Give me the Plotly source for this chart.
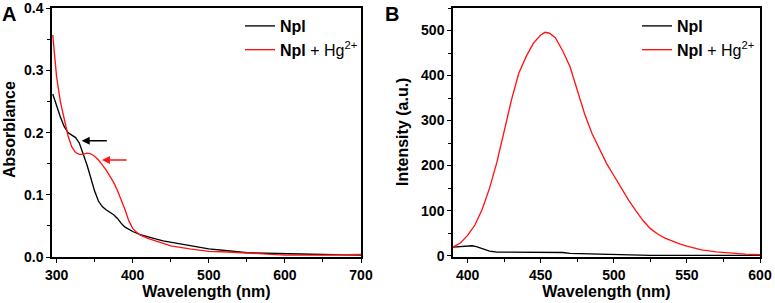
import plotly.graph_objects as go

# Panel A: UV-vis absorbance
wl_a_npl = [295, 300, 305, 310, 315, 320, 325, 330, 335, 340, 345, 350, 355, 360, 365, 370, 375,
            380, 385, 390, 395, 400, 410, 420, 430, 440, 450, 460, 475, 500, 525, 550, 575, 600, 650, 700]
abs_npl = [0.262, 0.242, 0.225, 0.210, 0.200, 0.196, 0.192, 0.183, 0.167, 0.148, 0.127, 0.106, 0.090,
           0.081, 0.076, 0.072, 0.068, 0.062, 0.054, 0.048, 0.044, 0.041, 0.036, 0.032, 0.029, 0.026,
           0.024, 0.021, 0.018, 0.013, 0.010, 0.007, 0.006, 0.005, 0.004, 0.003]
wl_a_hg = [295, 300, 305, 310, 315, 320, 325, 330, 335, 340, 345, 350, 355, 360, 365, 370, 375, 380,
           385, 390, 395, 400, 405, 410, 420, 430, 440, 450, 475, 500, 525, 550, 575, 600, 650, 700]
abs_hg = [0.357, 0.290, 0.250, 0.222, 0.195, 0.177, 0.168, 0.165, 0.165, 0.167, 0.166, 0.162, 0.156,
          0.148, 0.140, 0.130, 0.120, 0.107, 0.092, 0.076, 0.058, 0.046, 0.040, 0.035, 0.030, 0.026,
          0.022, 0.018, 0.013, 0.009, 0.008, 0.006, 0.005, 0.003, 0.003, 0.004]

# Panel B: fluorescence intensity
wl_b_npl = [390, 395, 400, 403, 406, 410, 415, 420, 430, 440, 450, 460, 465, 470, 480, 490, 500, 510,
            520, 525, 540, 560, 580, 600]
int_npl = [19, 20, 21, 22, 20, 16, 10, 8, 8, 8, 8, 8, 7, 5, 4, 3, 2.5, 2, 1.5, 0.5, 0.5, 0.5, 0.5, 0.5]
wl_b_hg = [390, 395, 400, 405, 410, 415, 420, 425, 430, 435, 440, 445, 450, 453, 456, 460, 465, 470,
           475, 480, 485, 490, 495, 500, 505, 510, 515, 520, 525, 530, 535, 540, 545, 550, 555, 560,
           570, 580, 590, 600]
int_hg = [19, 28, 45, 68, 103, 150, 207, 275, 346, 405, 442, 472, 490, 496, 494, 484, 455, 420, 365,
          315, 272, 238, 205, 178, 150, 124, 100, 78, 60, 48, 39, 32, 26, 21, 17, 13, 8.5, 5.5, 3.5, 2]

# Tick values
ticks_a_x = [300, 400, 500, 600, 700]
ticks_a_y = [0.0, 0.1, 0.2, 0.3, 0.4]
ticks_b_x = [400, 450, 500, 550, 600]
ticks_b_y = [0, 100, 200, 300, 400, 500]

name_npl = "<b>Npl</b>"
name_hg = "<b>Npl</b> + Hg<sup>2+</sup>"
title_a_x = "Wavelength (nm)"
title_a_y = "Absorblance"
title_b_x = "Wavelength (nm)"
title_b_y = "Intensity (a.u.)"

W, H = 775, 303
ML, MT, MB = 0, 8, 46
PH = H - MT - MB

def px(x):
    return x / W

def py(y):
    return 1 - (y - MT) / PH

FONT = "Arial, Liberation Sans, sans-serif"
BLACK = "#000000"
RED = "#ff1414"
LW = 1.35

fig = go.Figure()
fig.add_trace(go.Scatter(x=wl_a_npl, y=abs_npl, mode="lines", name=name_npl, legendgroup="a1",
                         line=dict(color=BLACK, width=LW), xaxis="x", yaxis="y", legend="legend"))
fig.add_trace(go.Scatter(x=wl_a_hg, y=abs_hg, mode="lines", name=name_hg, legendgroup="a2",
                         line=dict(color=RED, width=LW), xaxis="x", yaxis="y", legend="legend"))
fig.add_trace(go.Scatter(x=wl_b_npl, y=int_npl, mode="lines", name=name_npl, legendgroup="b1",
                         line=dict(color=BLACK, width=LW), xaxis="x2", yaxis="y2", legend="legend2"))
fig.add_trace(go.Scatter(x=wl_b_hg, y=int_hg, mode="lines", name=name_hg, legendgroup="b2",
                         line=dict(color=RED, width=LW), xaxis="x2", yaxis="y2", legend="legend2"))

axis_common = dict(showline=True, linecolor=BLACK, linewidth=1.5, mirror=True, ticks="outside",
                   ticklen=4, tickwidth=1.3, tickcolor=BLACK, showgrid=False, zeroline=False,
                   tickfont=dict(family=FONT, size=14, color=BLACK, weight="bold"),
                   title_font=dict(family=FONT, size=16, color=BLACK))
minor_common = dict(ticks="outside", ticklen=3, tickcolor=BLACK, tickwidth=1.2)

fig.update_layout(
    width=W, height=H,
    margin=dict(l=ML, r=0, t=MT, b=MB, autoexpand=False),
    paper_bgcolor="white", plot_bgcolor="white",
    font=dict(family=FONT, color=BLACK),
    xaxis=dict(domain=[px(52), px(361)], range=[294, 700], tickmode="array", tickvals=ticks_a_x,
               minor=dict(dtick=50, tick0=0, **minor_common),
               title=dict(text="<b>%s</b>" % title_a_x, standoff=4), anchor="y", **axis_common),
    yaxis=dict(domain=[0, 1], range=[0, 0.4004], tickmode="array", tickvals=ticks_a_y, tickformat=".1f",
               minor=dict(dtick=0.05, tick0=0, **minor_common), anchor="x", **axis_common),
    xaxis2=dict(domain=[px(453), px(760)], range=[390, 600], tickmode="array", tickvals=ticks_b_x,
                minor=dict(dtick=25, tick0=0, **minor_common),
                title=dict(text="<b>%s</b>" % title_b_x, standoff=4), anchor="y2", **axis_common),
    yaxis2=dict(domain=[0, 1], range=[-3, 550], tickmode="array", tickvals=ticks_b_y,
                minor=dict(dtick=50, tick0=0, **minor_common), anchor="x2", **axis_common),
    legend=dict(x=px(240), y=py(9), xanchor="left", yanchor="top", bgcolor="rgba(0,0,0,0)",
                font=dict(family=FONT, size=16, color=BLACK), tracegroupgap=0),
    legend2=dict(x=px(637), y=py(9), xanchor="left", yanchor="top", bgcolor="rgba(0,0,0,0)",
                 font=dict(family=FONT, size=16, color=BLACK), tracegroupgap=0),
    showlegend=True,
)

# Y-axis titles
fig.add_annotation(x=px(9), y=py(130), xref="paper", yref="paper", xanchor="center", yanchor="middle",
                   text="<b>%s</b>" % title_a_y, textangle=-90, showarrow=False,
                   font=dict(family=FONT, size=16, color=BLACK))
fig.add_annotation(x=px(402), y=py(132), xref="paper", yref="paper", xanchor="center", yanchor="middle",
                   text="<b>%s</b>" % title_b_y, textangle=-90, showarrow=False,
                   font=dict(family=FONT, size=16, color=BLACK))

# Arrows marking shoulders in panel A
fig.add_annotation(x=333, y=0.187, ax=368, ay=0.187, xref="x", yref="y", axref="x", ayref="y",
                   text="", showarrow=True, arrowhead=2, arrowsize=1, arrowwidth=1.6, arrowcolor=BLACK)
fig.add_annotation(x=359.6, y=0.156, ax=394, ay=0.156, xref="x", yref="y", axref="x", ayref="y",
                   text="", showarrow=True, arrowhead=2, arrowsize=1, arrowwidth=1.6, arrowcolor=RED)

# Panel labels
fig.add_annotation(x=px(8.5), y=py(13.5), xref="paper", yref="paper", xanchor="center", yanchor="middle",
                   text="<b>A</b>", showarrow=False, font=dict(family=FONT, size=20, color=BLACK))
fig.add_annotation(x=px(391.5), y=py(13.5), xref="paper", yref="paper", xanchor="center", yanchor="middle",
                   text="<b>B</b>", showarrow=False, font=dict(family=FONT, size=20, color=BLACK))

fig.write_html("out.html", post_script="document.body.style.margin='0';",
               config={"displayModeBar": False})
